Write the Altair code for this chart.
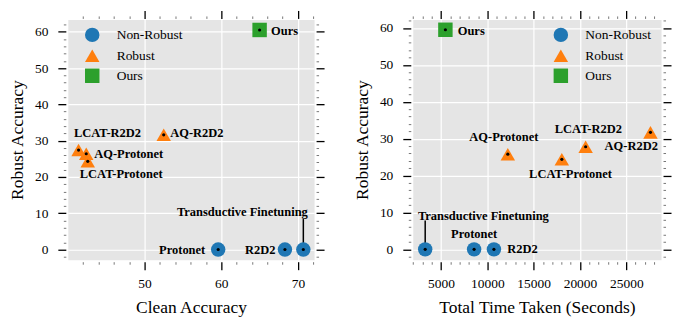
import altair as alt
import pandas as pd

# ---------------- data ----------------
methods = ["Protonet", "R2D2", "Transductive Finetuning", "AQ-Protonet",
           "AQ-R2D2", "LCAT-Protonet", "LCAT-R2D2", "Ours"]
groups = ["Non-Robust", "Non-Robust", "Non-Robust", "Robust",
          "Robust", "Robust", "Robust", "Ours"]
clean_acc = [59.6, 68.3, 70.7, 42.4, 52.5, 42.6, 41.4, 65.0]
robust_acc_left = [0.0, 0.0, 0.0, 26.4, 31.6, 24.3, 27.4, 60.5]
time_taken = [8570, 10710, 3290, 12210, 27610, 18040, 20610, 5470]
robust_acc_right = [0.0, 0.0, 0.0, 25.8, 31.7, 24.4, 27.8, 59.5]

group_order = ["Non-Robust", "Robust", "Ours"]
group_colors = ["#1f77b4", "#ff7f0e", "#2ca02c"]
group_shapes = ["circle", "triangle-up", "square"]

# axis ticks
left_x_major = [50, 60, 70]
left_x_minor = [42, 44, 46, 48, 52, 54, 56, 58, 62, 64, 66, 68, 72]
right_x_major = [5000, 10000, 15000, 20000, 25000]
right_x_minor = [2000, 3000, 4000, 6000, 7000, 8000, 9000, 11000, 12000, 13000,
                 14000, 16000, 17000, 18000, 19000, 21000, 22000, 23000, 24000,
                 26000, 27000, 28000]
y_major = [0, 10, 20, 30, 40, 50, 60]
y_minor = [-2, 2, 4, 6, 8, 12, 14, 16, 18, 22, 24, 26, 28, 32, 34, 36, 38,
           42, 44, 46, 48, 52, 54, 56, 58, 62]

# annotation line top for "Transductive Finetuning" (data units)
tf_line_top_left = 8.4
tf_line_top_right = 7.8

# label offsets: (dx, dy, align)
left_offsets = {
    "Protonet": (-13, 0, "right"),
    "R2D2": (-9.5, 0, "right"),
    "Transductive Finetuning": (4.5, -38, "right"),
    "AQ-Protonet": (8, 0, "left"),
    "AQ-R2D2": (6.5, -2, "left"),
    "LCAT-Protonet": (33.5, 13, "center"),
    "LCAT-R2D2": (29, -17, "center"),
    "Ours": (11.5, 1, "left"),
}
right_offsets = {
    "Protonet": (0, -15, "center"),
    "R2D2": (13.4, 0, "left"),
    "Transductive Finetuning": (-7.3, -33.3, "left"),
    "AQ-Protonet": (-4, -17.6, "center"),
    "AQ-R2D2": (-19.3, 13.3, "center"),
    "LCAT-Protonet": (8.7, 15, "center"),
    "LCAT-R2D2": (2.7, -18, "center"),
    "Ours": (12.4, 1, "left"),
}

SERIF = "Liberation Serif"


def axis(orient, values, labels=False, grid=False, title=None, minor=False):
    kw = dict(orient=orient, values=values, labels=labels, grid=grid,
              domain=False, ticks=True, offset=1 if orient == "top" else 2,
              format="d")
    if minor:
        kw.update(tickSize=2.5, tickWidth=1, tickColor="#777777")
    else:
        kw.update(tickSize=8, tickWidth=1.3, tickColor="black")
    if grid:
        kw.update(gridColor="white", gridWidth=1.2, gridOpacity=1)
    if labels:
        kw.update(labelFont=SERIF, labelFontSize=13.5, labelColor="black",
                  labelPadding=10 if orient in ("left", "right") else 7)
    if title:
        kw.update(title=title, titleFont=SERIF, titleFontSize=17.5,
                  titleFontWeight="normal", titleColor="black", titlePadding=8)
    else:
        kw.update(title="")
    return alt.Axis(**kw)


def panel(xvals, yvals, xdom, ydom, xmaj, xmin, xtitle, offsets, tf_top,
          w, h, legend_x):
    df = pd.DataFrame({"method": methods, "group": groups, "x": xvals, "y": yvals})
    xs = alt.Scale(domain=xdom, nice=False, zero=False)
    ys = alt.Scale(domain=ydom, nice=False, zero=False)
    leg = alt.Legend(orient="none", legendX=legend_x, legendY=8, title=None,
                     labelFont=SERIF, labelFontSize=13.5, labelColor="black",
                     symbolSize=210, symbolStrokeWidth=0, symbolOpacity=1,
                     labelOffset=17, rowPadding=6, padding=0)
    base = alt.Chart(df)
    pts = base.mark_point(filled=True, size=210, opacity=1, strokeWidth=0).encode(
        x=alt.X("x:Q", scale=xs, axis=axis("bottom", xmaj, labels=True, grid=True, title=xtitle)),
        y=alt.Y("y:Q", scale=ys, axis=axis("left", y_major, labels=True, grid=True, title="Robust Accuracy")),
        color=alt.Color("group:N", scale=alt.Scale(domain=group_order, range=group_colors), legend=leg),
        shape=alt.Shape("group:N", scale=alt.Scale(domain=group_order, range=group_shapes), legend=leg),
    )
    dots = base.mark_point(filled=True, size=10, opacity=1, color="black", strokeWidth=0).encode(
        x=alt.X("x:Q", scale=xs, axis=axis("top", xmaj)),
        y=alt.Y("y:Q", scale=ys, axis=axis("right", y_major)),
    )
    minor1 = base.mark_point(opacity=0).encode(
        x=alt.X("x:Q", scale=xs, axis=axis("bottom", xmin, minor=True)),
        y=alt.Y("y:Q", scale=ys, axis=axis("left", y_minor, minor=True)),
    )
    minor2 = base.mark_point(opacity=0).encode(
        x=alt.X("x:Q", scale=xs, axis=axis("top", xmin, minor=True)),
        y=alt.Y("y:Q", scale=ys, axis=axis("right", y_minor, minor=True)),
    )
    rule = base.transform_filter(alt.datum.method == "Transductive Finetuning").transform_calculate(
        top=str(tf_top)
    ).mark_rule(color="black", strokeWidth=1.5).encode(
        x=alt.X("x:Q", scale=xs, axis=None),
        y=alt.Y("y:Q", scale=ys, axis=None),
        y2="top:Q",
    )
    texts = []
    for m in methods:
        dx, dy, al = offsets[m]
        t = base.transform_filter(alt.datum.method == m).mark_text(
            dx=dx, dy=dy, align=al, baseline="middle", font=SERIF,
            fontWeight="bold", fontSize=12.5, color="black"
        ).encode(
            x=alt.X("x:Q", scale=xs, axis=None),
            y=alt.Y("y:Q", scale=ys, axis=None),
            text="method:N",
        )
        texts.append(t)
    return alt.layer(minor1, minor2, rule, pts, dots, *texts).resolve_axis(
        x="independent", y="independent"
    ).properties(width=w, height=h)


left = panel(clean_acc, robust_acc_left, [40.0, 72.1], [-2.8, 63.4],
             left_x_major, left_x_minor, "Clean Accuracy", left_offsets,
             tf_line_top_left, 247, 241, 17)
right = panel(time_taken, robust_acc_right, [1950, 28750], [-2.8, 62.3],
              right_x_major, right_x_minor, "Total Time Taken (Seconds)",
              right_offsets, tf_line_top_right, 249, 241, 141)

chart = alt.hconcat(left, right, spacing=27).resolve_scale(
    color="independent", shape="independent"
).resolve_legend(color="independent", shape="independent").properties(
    padding={"left": 0, "top": 0, "right": 0, "bottom": 0}
).configure_view(fill="#e5e5e5", stroke="transparent")

chart.save("out.html", embed_options={"renderer": "svg", "actions": False})
